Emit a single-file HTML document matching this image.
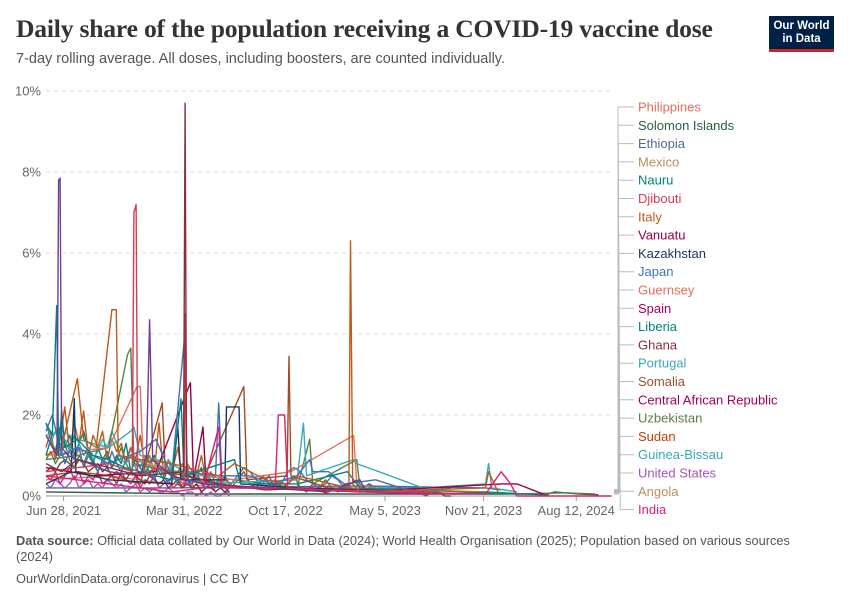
<!DOCTYPE html>
<html><head><meta charset="utf-8"><style>
body{margin:0;background:#fff;font-family:"Liberation Sans",sans-serif;}
#wrap{position:relative;width:850px;height:600px;overflow:hidden;}
.t{position:absolute;white-space:nowrap;}
</style></head><body>
<div id="wrap">
<div class="t" style="left:16px;top:14px;font-family:'Liberation Serif',serif;font-size:25.6px;font-weight:bold;color:#333;letter-spacing:-0.2px">Daily share of the population receiving a COVID-19 vaccine dose</div>
<div class="t" style="left:16px;top:51px;font-size:14.5px;color:#555">7-day rolling average. All doses, including boosters, are counted individually.</div>
<div style="position:absolute;left:769px;top:16px;width:65px;height:36px;background:#002147;border-bottom:3px solid #ce261e;box-sizing:border-box;color:#fff;font-size:11.5px;line-height:13px;text-align:center;padding-top:4px;font-weight:bold">Our World<br>in Data</div>
<svg id="chart" width="850" height="600" style="position:absolute;left:0;top:0"></svg>
<div class="t" style="left:16px;top:533px;font-size:12.8px;color:#555;line-height:16px;white-space:normal;width:775px"><b>Data source:</b> Official data collated by Our World in Data (2024); World Health Organisation (2025); Population based on various sources (2024)</div>
<div class="t" style="left:16px;top:571px;font-size:12.8px;color:#555">OurWorldinData.org/coronavirus | CC BY</div>
</div>
<script>
const yTicks=[0,2,4,6,8,10];
const xTickLabels=["Jun 28, 2021","Mar 31, 2022","Oct 17, 2022","May 5, 2023","Nov 21, 2023","Aug 12, 2024"];
const xTickWeeks=[5.6,44,76.3,108,139.4,168.9];
const legendNames=["Philippines","Solomon Islands","Ethiopia","Mexico","Nauru","Djibouti","Italy","Vanuatu","Kazakhstan","Japan","Guernsey","Spain","Liberia","Ghana","Portugal","Somalia","Central African Republic","Uzbekistan","Sudan","Guinea-Bissau","United States","Angola","India"];
const legendColors=["#e56e5a","#286140","#4c6a9c","#bc8e5a","#00847e","#d73c50","#c05917","#970046","#18375f","#3a72c2","#e56e5a","#a2005a","#00847e","#883039","#38aaba","#9a5129","#a2005a","#578145","#c33e0b","#38aaba","#a652ba","#bc8e5a","#e5197c"];
const sPurple=[[0,1.5],[2,1.2],[3.5,1.0],[4,7.8],[4.5,7.85],[5,1.2],[7,1.0],[10,0.9],[14,0.8],[20,0.6],[30,0.5],[32,1.0],[33,4.35],[34,0.9],[40,0.5],[50,0.3],[70,0.2],[90,0.1],[100,0.4],[102,0.1],[120,0.05]];
const sTeal=[[0,1.8],[2,1.5],[3.4,4.7],[4,1.0],[5,2.1],[6,1.2],[10,1.4],[15,1.0],[20,0.9],[25,0.7],[30,0.6],[40,0.4],[43,2.4],[44,0.5],[60,0.9],[62,0.3],[80,0.3],[96,0.6],[100,0.2],[130,0.05],[140,0.1],[160,0.02]];
const sRed=[[0,0.6],[20,0.8],[27.5,0.6],[28,7.0],[28.7,7.2],[29.2,0.5],[36,0.7],[44,0.3],[44.3,4.5],[44.8,0.4],[60,0.2],[120,0.1],[130,0.05]];
const sOrange=[[0,1.0],[5,1.2],[10,2.9],[12,1.4],[16,1.2],[21,4.6],[22.4,4.6],[23,1.0],[30,0.9],[40,0.8],[55,0.5],[60,0.8],[70,0.4],[77,0.3],[80,0.5],[96.5,0.2],[97,6.3],[97.7,0.3],[100,0.1],[140,0.2],[141,0.6],[144,0.1]];
const sMaroon=[[0,0.8],[5,0.6],[10,0.9],[20,0.7],[30,0.5],[43.8,0.6],[44.3,9.7],[44.8,0.5],[55,0.3],[70,0.15],[85,0.2],[90,0.05]];
const sNavy=[[0,0.3],[8,0.6],[9,2.4],[9.5,0.6],[20,0.4],[40,0.3],[42,1.7],[43,0.4],[57,0.4],[57.5,2.2],[61.5,2.2],[62,0.3],[80,0.2],[100,0.15],[120,0.1]];
const sBlue=[[0,1.6],[2,2.0],[5,1.0],[10,1.2],[20,0.8],[30,1.1],[35,1.4],[40,0.5],[44,3.8],[45,0.6],[54,0.5],[55,2.3],[56,0.5],[65,0.5],[72,0.3],[80,0.5],[84,0.9],[85,0.6],[90,0.6],[95,0.3],[105,0.4],[115,0.15],[130,0.05]];
const sBrown=[[0,0.5],[10,0.6],[20,0.5],[30,0.3],[37,2.3],[38,0.6],[50,0.4],[63,2.7],[64,0.4],[76.8,0.5],[77.4,3.45],[78,0.5],[90,0.2],[120,0.1]];
const sPink=[[0,0.5],[10,0.4],[20,0.3],[30,0.2],[40,0.1],[50,0.2],[55,1.7],[56,0.2],[73,0.2],[74,2.0],[76,2.0],[77,0.2],[100,0.1],[140,0.05],[145,0.6],[148,0.3],[150,0.0],[180,0.0]];
const sCyan=[[0,1.5],[5,1.6],[10,1.4],[15,1.3],[20,1.2],[27,1.6],[28,1.7],[30,1.0],[40,0.8],[50,0.3],[80,0.4],[82,1.8],[83,0.5],[98,0.9],[99,0.8],[120,0.2],[140,0.3],[141,0.8],[142,0.2],[150,0.1]];
const sGreen=[[0,0.9],[10,1.0],[20,1.2],[26,3.5],[27,3.65],[28,0.8],[40,0.6],[60,0.4],[80,0.2],[84,1.4],[85,0.3],[99,0.9],[100,0.2],[150,0.05],[165,0.08],[175,0.05]];
const sCoral=[[0,1.0],[10,1.1],[20,1.2],[29,2.7],[30,2.7],[31,0.8],[42,0.6],[60,0.4],[78,0.6],[98,1.5],[99,0.3],[110,0.1]];
const sCrimson=[[0,0.7],[15,0.5],[35,0.6],[46,2.8],[47,0.4],[50,1.7],[51,0.3],[70,0.2],[100,0.1],[145,0.3],[150,0.3],[160,0.0]];
const sOchre=[[0,0.4],[20,0.5],[40,0.3],[60,0.2],[100,0.2],[140,0.1]];
const sSlate=[[0,0.2],[40,0.2],[100,0.25],[140,0.2],[145,0.15]];
const sDkGreen=[[0,0.1],[50,0.05],[100,0.05],[160,0.05],[162,0.1],[170,0.05],[176,0.03]];
// dense early series: values every 1.5 weeks starting at week 0
const d1=[1.5,1.3,1.6,1.2,1.4,1.1,1.5,1.3,1.0,1.2,0.9,1.1,1.4,1.2,1.6,1.3,0.9,0.8,1.0,0.7,0.9,0.6,0.8,0.5,0.7,0.6,0.9,0.4,0.6,0.5,0.7,0.4,0.5,0.3,0.6,0.4,0.3,0.5,0.3,0.2];
const d2=[1.2,1.6,0.9,1.4,2.2,1.1,1.8,1.3,2.1,1.0,1.5,1.2,1.6,0.9,1.4,1.1,1.3,0.8,1.2,0.9,1.5,0.7,1.0,0.6,1.8,0.5,0.9,0.7,1.2,0.4,0.8,0.6,0.5,1.0,0.4,0.6,0.3,0.5,0.4,0.3];
const d3=[0.9,1.1,0.8,1.0,1.3,0.9,0.7,1.0,0.8,1.1,0.9,0.6,0.8,1.0,0.7,0.9,1.2,0.8,0.6,0.9,0.7,1.0,0.8,0.5,0.7,0.6,0.9,0.5,0.6,0.8,0.4,0.6,0.5,0.3,0.5,0.4,0.3,0.4,0.2,0.3];
const d4=[0.5,0.4,0.6,0.3,0.5,0.7,0.4,0.6,0.3,0.5,0.4,0.6,0.3,0.4,0.5,0.3,0.6,0.4,0.3,0.5,0.2,0.4,0.3,0.5,0.2,0.3,0.4,0.2,0.3,0.2,0.4,0.2,0.3,0.1,0.2,0.3,0.1,0.2,0.1,0.2];
const d5=[0.6,0.7,0.6,0.8,0.9,0.8,0.7,0.9,0.8,0.6,0.7,0.8,0.6,0.7,0.5,0.6,0.5,0.4,0.6,0.5,0.4,0.3,0.5,0.4,0.3,0.4,0.2,0.3,0.4,0.2,0.3,0.2,0.3,0.1,0.2,0.2,0.1,0.2,0.1,0.1];
const d6=[1.8,1.4,1.0,1.3,0.8,1.1,0.9,1.2,0.7,1.0,0.8,0.6,0.9,0.7,1.1,0.8,0.6,0.9,1.2,0.7,0.5,0.8,0.6,0.4,0.7,0.5,0.3,0.6,0.4,0.5,0.3,0.4,0.6,0.3,0.2,0.4,0.3,0.2,0.3,0.2];
const d7=[0.3,0.2,0.4,0.3,0.2,0.3,0.5,0.2,0.3,0.4,0.2,0.3,0.2,0.4,0.3,0.2,0.3,0.1,0.2,0.3,0.1,0.2,0.1,0.2,0.1,0.1,0.2,0.1,0.1,0.0,0.1,0.1,0.0,0.1,0.0,0.1,0.0,0.0,0.1,0.0];
const d8=[1.0,1.4,1.1,1.7,1.2,1.5,1.0,1.3,1.6,1.1,0.8,1.2,0.9,1.1,0.7,1.0,0.8,1.3,0.6,0.9,0.7,0.5,0.8,1.0,0.6,0.4,0.7,0.5,0.3,0.6,0.4,0.3,0.5,0.7,0.3,0.4,0.2,0.3,0.2,0.1];
// dense later series: values every 2 weeks starting at week 55
const d9=[0.3,0.5,0.2,0.4,0.6,0.3,0.2,0.5,0.3,0.4,0.2,0.3,0.5,0.2,0.1,0.3,0.2,0.4,0.2,0.1,0.3,0.2,0.1,0.2,0.3,0.1,0.2,0.1,0.1,0.2,0.1,0.1,0.1,0.0,0.1,0.1,0.0,0.0];
const d10=[0.2,0.4,0.3,0.5,0.7,0.6,0.4,0.3,0.5,0.2,0.3,0.6,0.7,0.6,0.4,0.3,0.2,0.3,0.5,0.4,0.2,0.3,0.4,0.2,0.3,0.2,0.2,0.2,0.2,0.2,0.2,0.2,0.2,0.2,0.2,0.2,0.2,0.2];

const NS="http://www.w3.org/2000/svg";
const svg=document.getElementById('chart');
const X0=46,X1=612,Y0=496,Y1=91,WMAX=180.3;
const xs=w=>X0+(X1-X0)*w/WMAX;
const ys=v=>Y0-(Y0-Y1)*v/10;
const toPts=(vals,start,step)=>vals.map((v,i)=>[start+i*step,v]);
const seriesList=[[sOchre,"#bc8e5a"],[sSlate,"#4c6a9c"],[sDkGreen,"#286140"],
 [toPts(d7,0,1.5),"#a652ba"],[toPts(d4,0,1.5),"#e11d74"],[toPts(d5,0,1.5),"#883039"],[toPts(d3,0,1.5),"#578145"],
 [toPts(d9,55,2),"#a04d21"],[toPts(d10,55,2),"#3a72c2"],
 [toPts(d6,0,1.5),"#3a72c2"],[toPts(d8,0,1.5),"#00847e"],[toPts(d2,0,1.5),"#c05917"],[toPts(d1,0,1.5),"#38aaba"],
 [sGreen,"#578145"],[sCoral,"#e56e5a"],[sCyan,"#38aaba"],[sBrown,"#a04d21"],[sCrimson,"#970046"],[sNavy,"#18375f"],[sBlue,"#3a72c2"],[sTeal,"#00847e"],[sOrange,"#c05917"],[sRed,"#d73c50"],[sPurple,"#6d3e91"],[sMaroon,"#883039"],[sPink,"#e11d74"]];
function mk(t,a){const e=document.createElementNS(NS,t);for(const k in a)e.setAttribute(k,a[k]);svg.appendChild(e);return e;}
yTicks.forEach(v=>{
  if(v>0){const g=mk('line',{x1:X0,x2:X1,y1:ys(v),y2:ys(v),stroke:'#ddd','stroke-dasharray':'4,4'});
  
  }
  const t=mk('text',{x:41,y:ys(v)+4.5,'text-anchor':'end','font-size':13,fill:'#666','font-family':'Liberation Sans'});
  
  
  t.textContent=v+'%';
});
const ax=mk('line',{x1:X0,x2:X1,y1:Y0,y2:Y0,stroke:'#999'});


xTickLabels.forEach((l,i)=>{
  const x=xs(xTickWeeks[i]);
  const tk=mk('line',{x1:x,x2:x,y1:Y0,y2:Y0+5,stroke:'#999'});
  
  
  const t=mk('text',{x:x,y:515,'text-anchor':'middle','font-size':13,fill:'#666','font-family':'Liberation Sans'});
  
  
  t.textContent=l;
});
seriesList.forEach(([pts,c])=>{
  const p=mk('polyline',{points:pts.map(d=>xs(d[0]).toFixed(1)+','+ys(d[1]).toFixed(1)).join(' '),fill:'none',stroke:c,'stroke-width':1.4,'stroke-linejoin':'round'});
  
  
});
legendNames.forEach((n,i)=>{
  const y=107+i*18.3;
  const l=mk('polyline',{points:`${X1+2},${494-i*0.2} ${618+i*0.1},${494-i*0.2} ${618+i*0.1},${y} 634,${y}`,fill:'none',stroke:'#bbb','stroke-width':1});
  
  
  const t=mk('text',{x:638,y:y+4.5,'font-size':13,fill:legendColors[i],'font-family':'Liberation Sans'});
  
  
  t.textContent=n;
});
</script>
</body></html>
